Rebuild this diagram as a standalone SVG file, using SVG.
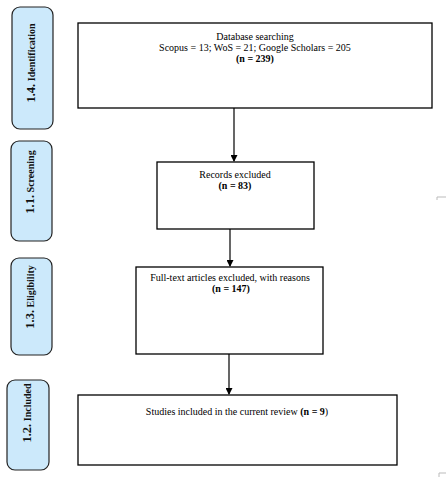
<svg xmlns="http://www.w3.org/2000/svg" width="446" height="477" viewBox="0 0 446 477">
<style>
.box{fill:#fff;stroke:#000;stroke-width:1.3}
.side{fill:#cce9fb;stroke:#222;stroke-width:1.2}
.t{font-family:"Liberation Serif","Times New Roman",serif;font-size:10px;fill:#000;text-anchor:middle}
.b{font-weight:bold}
.st{font-family:"Liberation Serif","Times New Roman",serif;font-weight:bold;fill:#111;text-anchor:middle}
.num{font-size:12.5px}
.wd{font-size:10px}
.edge{stroke:#000;stroke-width:1.2;fill:none}
</style>
<defs>
<marker id="ah" markerWidth="7" markerHeight="7" refX="6" refY="3.5" orient="auto" markerUnits="userSpaceOnUse">
<path d="M0,0 L7,3.5 L0,7 z" fill="#000"/>
</marker>
</defs>
<rect width="446" height="477" fill="#fff"/>
<g id="stage-identification">
<rect class="side" x="12" y="7" width="41" height="122" rx="8"/>
<text class="st" transform="translate(35,63) rotate(-90)"><tspan class="num">1.4.</tspan><tspan class="wd"> Identification</tspan></text>
</g>
<g id="stage-screening">
<rect class="side" x="11" y="141" width="41" height="100" rx="8"/>
<text class="st" transform="translate(34,182) rotate(-90)"><tspan class="num">1.1.</tspan><tspan class="wd"> Screening</tspan></text>
</g>
<g id="stage-eligibility">
<rect class="side" x="11" y="258" width="41" height="97" rx="8"/>
<text class="st" transform="translate(34,297) rotate(-90)"><tspan class="num">1.3.</tspan><tspan class="wd"> Eligibility</tspan></text>
</g>
<g id="stage-included">
<rect class="side" x="7" y="380" width="42" height="90" rx="8"/>
<text class="st" transform="translate(31,413) rotate(-90)"><tspan class="num">1.2.</tspan><tspan class="wd"> Included</tspan></text>
</g>
<g id="n1">
<rect class="box" x="78" y="23" width="354" height="85"/>
<text class="t" x="255" y="40">Database searching</text>
<text class="t" x="255" y="51">Scopus = 13; WoS = 21; Google Scholars = 205</text>
<text class="t b" x="255" y="62">(n = 239)</text>
</g>
<g id="n2">
<rect class="box" x="157" y="162" width="157" height="67"/>
<text class="t" x="235" y="178">Records excluded</text>
<text class="t b" x="235" y="189">(n = 83)</text>
</g>
<g id="n3">
<rect class="box" x="136" y="267" width="187" height="87"/>
<text class="t" x="230" y="281">Full-text articles excluded, with reasons</text>
<text class="t b" x="231" y="292">(n = 147)</text>
</g>
<g id="n4">
<rect class="box" x="78" y="395" width="319" height="70"/>
<text class="t" x="237" y="415">Studies included in the current review <tspan class="b">(n = 9</tspan>)</text>
</g>
<g id="connectors">
<line class="edge" x1="234" y1="108" x2="234" y2="161" marker-end="url(#ah)"/>
<line class="edge" x1="230" y1="229" x2="230" y2="266" marker-end="url(#ah)"/>
<line class="edge" x1="229" y1="354" x2="229" y2="394" marker-end="url(#ah)"/>
</g>
<path d="M437,197 L446,197 M437,197 L437,200" stroke="#bbb" stroke-width="1" fill="none"/>
<path d="M439,477 L439,473 L446,473" stroke="#bbb" stroke-width="1" fill="none"/>
</svg>
